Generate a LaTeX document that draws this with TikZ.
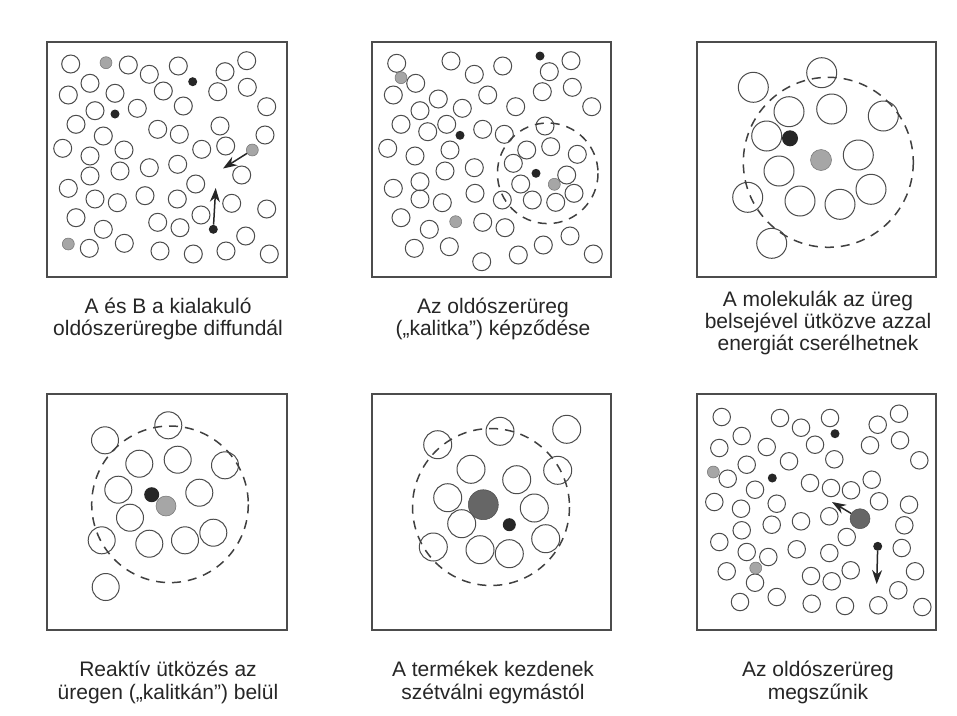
\documentclass[tikz,border=0pt]{standalone}
\usepackage{fontspec}
\setmainfont{Liberation Sans}
\usetikzlibrary{arrows.meta}
\newcommand\panelfont{\fontsize{21}{22.3}\selectfont}
\tikzset{
	solv/.style={circle, draw=black!70, line width=1pt, inner sep=0pt, minimum size=#1},
	solv/.default=18pt,
	molA/.style={circle, fill=black!85, inner sep=0pt, minimum size=#1},
	molA/.default=9pt,
	molB/.style={circle, draw=black!55, fill=black!35, line width=0.5pt, inner sep=0pt, minimum size=#1},
	molB/.default=12pt,
	prod/.style={circle, draw=black!70, fill=black!60, line width=0.5pt, inner sep=0pt, minimum size=#1},
	cage/.style={draw=black!75, line width=1.5pt, dash pattern=on 9pt off 7pt},
	panelbox/.style={draw=black!70, line width=1.1pt},
	caption/.style={align=center, font=\panelfont, text=black!85, inner sep=0pt, anchor=base},
	mov/.style={-{Stealth[length=14pt,width=10pt]}, line width=1.5pt, black!85}
}
\begin{document}
\begin{tikzpicture}[x=1pt,y=-1pt]
		\useasboundingbox[fill=white] (0,0) rectangle (957,715);
		\draw[panelbox] (47,42) rectangle (287,277);
		\draw[panelbox] (372,42) rectangle (611,277);
		\draw[panelbox] (697,42) rectangle (936,277);
		\draw[panelbox] (47,394) rectangle (287,630);
		\draw[panelbox] (372,394) rectangle (611,630);
		\draw[panelbox] (697,394) rectangle (936,630);
		% 1
		\foreach \x/\y [count=\i] in {70.7/64,128.3/65,149.3/74.3,178.3/66,225/71.7,246.7/60.7,90/83.3,68.3/95,115/93.3,163.3/91,217.7/91.7,247.3/87.3,95/110.7,137.3/108.3,183.3/106,266.7/106.7,76/124.3,103.3/136,157.7/129.3,179.3/134.3,220/126,265/135,62.7/148.3,90/156,124/150,201.7/149.3,225.7/146,241.7/175,90/176,120/171,149.3/167.7,177.7/164.3,195.7/184,68.3/188.3,95/199,117.3/202.7,145/195.7,177.3/199,231.7/203.3,266.7/209,201/215,76/217.7,103.3/229.3,157.7/222.3,180/227.7,245.7/236,89.3/248.3,124.3/243.3,160/251,193.3/254,226/251,269.3/254}
			\node[solv] (s1-\i) at (\x,\y) {};
		\node[molA] (a1) at (192.7,81.7) {};
		\node[molA] (a2) at (115,114) {};
		\node[molB] (b1) at (106,62.7) {};
		\node[molB] (b2) at (68.3,244) {};
		\node[molA] (a3) at (213.3,229.3) {};
		\node[molB] (b3) at (252.3,150) {};
		\coordinate (a3end) at (215.7,188);
		\coordinate (b3end) at (223,168.5);
		\draw[mov] (a3) -- (a3end);
		\draw[mov] (b3) -- (b3end);
		% 2
		\foreach \x/\y [count=\i] in {396.7/63.3,415.7/83.3,451/61,474.3/74.3,502.7/66,549.3/71.7,571/60.7,393.3/95,438.3/99,487.7/95,542.3/91.7,572.3/87.3,420/110.7,462.3/108.3,515.7/106.7,591.7/106.7,401/124.3,427.7/131.7,446.7/124.3,482.7/129.3,504.3/134.3,545/126,387.7/148.3,415/156,450/150,526.7/150,550.7/146.7,577.3/154.3,513.3/163.3,445/171,474.3/167.7,566.7/175,420/181.7,393.3/188.3,520.7/184,420/199,442.3/202.7,475/193.3,502.3/200,532.3/200,555.7/202.3,574/193.3,401/217.7,429.3/229.3,482.7/222.3,505/227.7,414.3/248.3,449.3/246.7,481.7/261.7,518.3/255,543.3/245,570/236,593.3/254}
			\node[solv] (s2-\i) at (\x,\y) {};
		\node[molA] (a4) at (540,56) {};
		\node[molA] (a5) at (460,135.3) {};
		\node[molA] (a6) at (536,173.3) {};
		\node[molB] (b4) at (401,77.7) {};
		\node[molB] (b5) at (554.3,184.3) {};
		\node[molB] (b6) at (455.7,221.7) {};
		\draw[cage] (547.7,173.3) circle (50.3);
		% 3
		\foreach \x/\y [count=\i] in {753.3/87.3,821.7/72.7,789/111.7,831.7/109,883.3/116,766.7/136,858.3/155,779/171,747.7/197.3,800/201,840/204.3,871/189.3,771.7/243.3}
			\node[solv=30pt] (s3-\i) at (\x,\y) {};
		\node[molA=16pt] (a7) at (790,138.3) {};
		\node[molB=21pt] (b7) at (821,160) {};
		\draw[cage] (828.3,162.3) circle (85);
		% 4
		\foreach \x/\y [count=\i] in {105/440.3,168.3/425.3,139.3/463.7,177.7/459.7,225/465.3,118.3/489.7,199.3/492.7,130/517.7,101.7/540.3,149.3/543.7,185/540.3,213.3/532.7,105.7/587}
			\node[solv=27pt] (s4-\i) at (\x,\y) {};
		\node[molA=15pt] (a8) at (151.7,494.7) {};
		\node[molB=20pt] (b8) at (166,506) {};
		\draw[cage] (170,504.3) circle (78.3);
		% 5
		\foreach \x/\y [count=\i] in {437.7/444.7,500/431.3,566.7/429.3,471/469.3,516.7/479.7,557.7/470.3,447.7/497.7,534.3/508,461.7/523.7,433.3/547,480/549.7,509.3/553.7,545.7/538.7}
			\node[solv=28pt] (s5-\i) at (\x,\y) {};
		\node[prod=30pt] (c1) at (483.3,504.7) {};
		\node[molA=13pt] (d1) at (509.3,524.7) {};
		\draw[cage] (491,507) circle (78.5);
		% 6
		\foreach \x/\y [count=\i] in {721.7/417,780/418,801/427.7,830/418,877.7/424.7,899/413.7,741.7/436,719.3/448,766.7/447,815/444.7,870/445.3,900/440.3,919.3/460.3,727.7/478.7,746.7/464.7,789/461.3,834.3/459.3,810/483,831/488,851/490.3,871.7/479.7,714.3/502,755/489.7,741/508.7,776.7/503.7,879/501.3,909/504.7,829.3/516.3,801/521.3,771.7/524.7,741.7/530.3,904.3/525.3,719.3/542,846.7/537,746.7/552,768.3/557,796.7/549.3,829.3/553,901.7/548,726.7/571.3,755/582.7,811/576,831.7/581.3,850.7/570.3,898.3/590.3,915/571.3,740/602,776.7/597,811.7/603.7,845/606,878.3/605.3,922.3/607}
			\node[solv=17.5pt] (s6-\i) at (\x,\y) {};
		\node[molA] (a9) at (835,433.7) {};
		\node[molA] (a10) at (772.3,478) {};
		\node[molB] (b9) at (713.3,472) {};
		\node[molB] (b10) at (755.7,568) {};
		\node[prod=20pt] (c2) at (860,518.7) {};
		\node[molA] (d2) at (877.7,546.3) {};
		\coordinate (c2end) at (832,502);
		\coordinate (d2end) at (876.7,584);
		\draw[mov] (c2) -- (c2end);
		\draw[mov] (d2) -- (d2end);
		% captions
		\node[caption] (cap1) at (168,335.7) {A és B a kialakuló\\oldószerüregbe diffundál};
		\node[caption] (cap2) at (493,335.7) {Az oldószerüreg\\(„kalitka”) képződése};
		\node[caption] (cap3) at (818,350.7) {A molekulák az üreg\\belsejével ütközve azzal\\energiát cserélhetnek};
		\node[caption] (cap4) at (168,699) {Reaktív ütközés az\\üregen („kalitkán”) belül};
		\node[caption] (cap5) at (493,699) {A termékek kezdenek\\szétválni egymástól};
		\node[caption] (cap6) at (818,699) {Az oldószerüreg\\megszűnik};
\end{tikzpicture}
\end{document}
